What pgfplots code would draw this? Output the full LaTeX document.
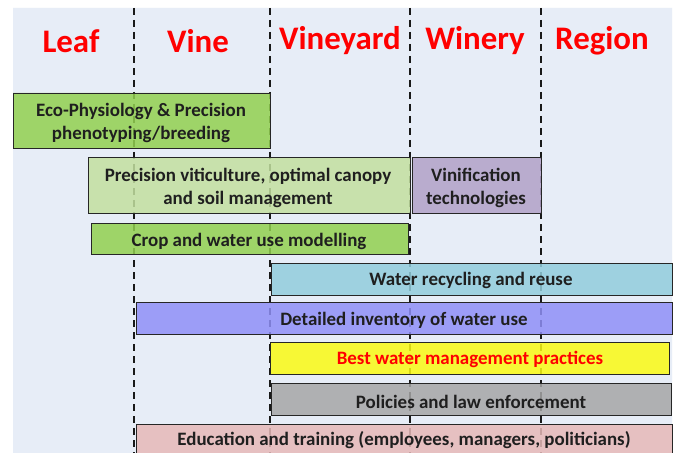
\documentclass[border=0pt]{standalone}
\usepackage{fontspec}
\setmainfont{Carlito}
\usepackage{pgfplots}
\pgfplotsset{compat=1.18}
\definecolor{bg}{RGB}{231,237,247}
\definecolor{gA}{RGB}{146,208,80}
\definecolor{gB}{RGB}{195,224,160}
\definecolor{pu}{RGB}{178,161,199}
\definecolor{lb}{RGB}{146,205,220}
\definecolor{bp}{RGB}{143,143,247}
\definecolor{ye}{RGB}{250,250,20}
\definecolor{gr}{RGB}{166,166,166}
\definecolor{pk}{RGB}{230,185,184}
\definecolor{hred}{RGB}{255,0,0}
\tikzset{bx/.style={align=center, inner sep=0pt, font=\fontsize{19}{23}\selectfont\bfseries, text=black!88},
  hd/.style={font=\fontsize{33}{36}\selectfont\bfseries, text=hred}}
\newcommand{\pbox}[5]{\addplot[draw=black!85, line width=0.9bp, fill=#5, fill opacity=0.85] coordinates {(#1,#3) (#2,#3) (#2,#4) (#1,#4) (#1,#3)};}
\newcommand{\dline}[1]{\addplot[black!90, line width=1.7bp, dash pattern=on 7bp off 5bp] coordinates {(#1,8) (#1,460)};}
\begin{document}
\begin{tikzpicture}
\begin{axis}[width=678bp, height=453bp, scale only axis, xmin=0, xmax=678, ymin=0, ymax=453, y dir=reverse, hide axis]
\addplot[draw=none, fill=white] coordinates {(0,0) (678,0) (678,453) (0,453) (0,0)};
\addplot[draw=none, fill=bg] coordinates {(13,8) (672,8) (672,460) (13,460) (13,8)};
\dline{134}
\dline{270}
\dline{410}
\dline{541}
\pbox{13}{270}{93}{148}{gA}
\pbox{88}{410}{157}{213}{gB}
\pbox{412}{541}{157}{213}{pu}
\pbox{91}{408}{223}{254}{gA}
\pbox{271}{672}{263}{295}{lb}
\pbox{136}{672}{302}{334}{bp}
\pbox{270}{669}{342}{374}{ye}
\pbox{271}{671}{383}{415}{gr}
\pbox{136}{672}{424}{470}{pk}
\node[hd] at (71,41) {Leaf};
\node[hd] at (198,41) {Vine};
\node[hd] at (340,41) {Vineyard};
\node[hd] at (475,41) {Winery};
\node[hd] at (602,41) {Region};
\node[bx] at (141,123) {Eco-Physiology \& Precision\\phenotyping/breeding};
\node[bx] at (248,188) {Precision viticulture, optimal canopy\\and soil management};
\node[bx] at (476,188) {Vinification\\technologies};
\node[bx] at (249,241) {Crop and water use modelling};
\node[bx] at (471,280.5) {Water recycling and reuse};
\node[bx] at (404,320.5) {Detailed inventory of water use};
\node[bx, text=hred] at (470,359.5) {Best water management practices};
\node[bx] at (471,401.5) {Policies and law enforcement};
\node[bx] at (404,440) {Education and training (employees, managers, politicians)};
\end{axis}
\end{tikzpicture}
\end{document}
